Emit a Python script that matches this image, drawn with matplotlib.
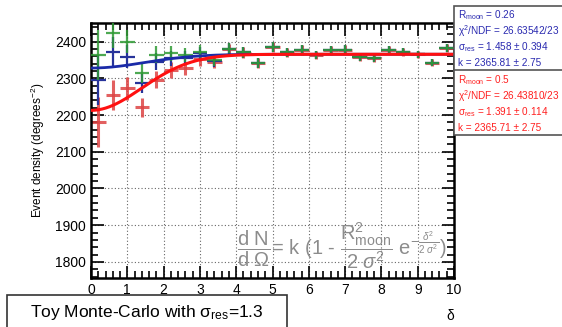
import numpy as np
import matplotlib
matplotlib.use("Agg")
import matplotlib.pyplot as plt
from matplotlib.patches import Rectangle
from matplotlib.ticker import MultipleLocator

plt.rcParams['font.family'] = ['Liberation Sans', 'DejaVu Sans']
plt.rcParams['mathtext.fontset'] = 'custom'
plt.rcParams['mathtext.rm'] = 'Liberation Sans'
plt.rcParams['mathtext.it'] = 'Liberation Sans:italic'
plt.rcParams['mathtext.bf'] = 'Liberation Sans:bold'

# bin centres (delta, degrees) and half-width
delta = [0.2, 0.6, 1.0, 1.4, 1.8, 2.2, 2.6, 3.0, 3.4, 3.8, 4.2, 4.6, 5.0,
         5.4, 5.8, 6.2, 6.6, 7.0, 7.4, 7.8, 8.2, 8.6, 9.0, 9.4, 9.8]
half_bin = 0.2

# event densities
dens_green = [2364, 2423, 2400, 2314, 2364, 2368, 2364, 2373, 2350, 2380, 2371, 2342, 2386,
              2371, 2377, 2364, 2377, 2378, 2359, 2356, 2378, 2371, 2366, 2343, 2383]
dens_blue = [2296, 2373, 2359, 2287, 2346, 2355, 2356, 2368, 2348, 2380, 2371, 2342, 2386,
             2371, 2377, 2364, 2377, 2378, 2359, 2356, 2378, 2371, 2366, 2343, 2383]
dens_red = [2182, 2255, 2273, 2221, 2296, 2323, 2327, 2352, 2346, 2379, 2370, 2342, 2386,
            2371, 2377, 2364, 2377, 2378, 2359, 2356, 2378, 2371, 2366, 2343, 2383]
dens_err = [68, 40, 31, 26, 23, 21, 19, 18, 17, 16, 15, 14, 14,
            13, 13, 12, 12, 12, 11, 11, 11, 11, 10, 10, 10]

# fit results
fit_blue = dict(r_moon=0.26, sigma=1.458, k=2365.81)
fit_red = dict(r_moon=0.5, sigma=1.391, k=2365.71)


def moon_shadow(d, r_moon, sigma, k):
    return k * (1 - r_moon**2 / (2 * sigma**2) * np.exp(-d**2 / (2 * sigma**2)))


fig = plt.figure(figsize=(5.62, 3.27), dpi=100)
ax = fig.add_axes([91/562, 1 - 278/327, (454 - 91)/562, (278 - 23)/327])

ax.errorbar(delta, dens_red, xerr=half_bin, yerr=dens_err, fmt='none',
            ecolor='#dd4444', elinewidth=2.2, alpha=0.85, zorder=2)
ax.errorbar(delta, dens_blue, xerr=half_bin, yerr=dens_err, fmt='none',
            ecolor='#27339a', elinewidth=1.6, zorder=3)
ax.errorbar(delta, dens_green, xerr=half_bin, yerr=dens_err, fmt='none',
            ecolor='#2f9a35', elinewidth=1.6, alpha=0.85, zorder=4)

xs = np.linspace(0, 10, 400)
ax.plot(xs, moon_shadow(xs, **fit_blue), color='#1a2aa8', lw=2, zorder=5)
ax.plot(xs, moon_shadow(xs, **fit_red), color='#ff1010', lw=2.2, zorder=6)

ax.set_xlim(0, 10)
ax.set_ylim(1756, 2451)
ax.xaxis.set_major_locator(MultipleLocator(1))
ax.xaxis.set_minor_locator(MultipleLocator(0.2))
ax.yaxis.set_major_locator(MultipleLocator(100))
ax.yaxis.set_minor_locator(MultipleLocator(20))
ax.tick_params(which='both', direction='in', top=True, right=True, width=1.2, labelsize=10)
ax.tick_params(which='major', length=9)
ax.tick_params(which='minor', length=5)
for s in ax.spines.values():
    s.set_linewidth(1.8)
ax.grid(True, which='major', ls=(0, (1, 2)), color='#666666', lw=0.8)

ax.set_ylabel('Event density (degrees$^{-2}$)', fontsize=8.5, labelpad=6)
fig.text(450/562, 1 - 316/327, 'δ', fontsize=10, ha='center', va='center')

formula = (r'$\dfrac{\mathrm{d\ N}}{\mathrm{d\ \Omega}}$= k (1 - '
           r'$\dfrac{\mathrm{R}^{2}_{\mathrm{moon}}}{\mathrm{2}\ \sigma^{2}}$ '
           r'e$^{-\frac{\delta^{2}}{\mathrm{2}\ \sigma^{2}}}$)')
ax.text(4.02, 1842, formula, fontsize=14.5, color='#8c8c8c', va='center', ha='left', zorder=7)

# stat boxes
fig.patches.append(Rectangle((454/562, 1 - 70.5/327), 1, 64.5/327, transform=fig.transFigure,
                             fc='white', ec='#555555', lw=1.2))
fig.patches.append(Rectangle((454/562, 1 - 135/327), 1, 64.5/327, transform=fig.transFigure,
                             fc='white', ec='#555555', lw=1.2))
blue_lines = ['R$_{\\mathrm{moon}}$ = 0.26', 'χ$^{2}$/NDF = 26.63542/23',
              'σ$_{\\mathrm{res}}$ = 1.458 ± 0.394', 'k = 2365.81 ± 2.75']
red_lines = ['R$_{\\mathrm{moon}}$ = 0.5', 'χ$^{2}$/NDF = 26.43810/23',
             'σ$_{\\mathrm{res}}$ = 1.391 ± 0.114', 'k = 2365.71 ± 2.75']
for i, t in enumerate(blue_lines):
    fig.text(458/562, 1 - (15 + 16 * i)/327, t, color='#2a2ab0', fontsize=7.2, va='center')
for i, t in enumerate(red_lines):
    fig.text(458/562, 1 - (80 + 16 * i)/327, t, color='#ff2020', fontsize=7.2, va='center')

# title box
fig.patches.append(Rectangle((7/562, -0.05), 280/562, 1 - 295/327 + 0.05, transform=fig.transFigure,
                             fc='white', ec='#333333', lw=1.2))
fig.text(147/562, 1 - 312/327, 'Toy Monte-Carlo with σ$_{\\mathrm{res}}$=1.3', fontsize=12.5,
         ha='center', va='center')

fig.savefig('out.png', dpi=100)
